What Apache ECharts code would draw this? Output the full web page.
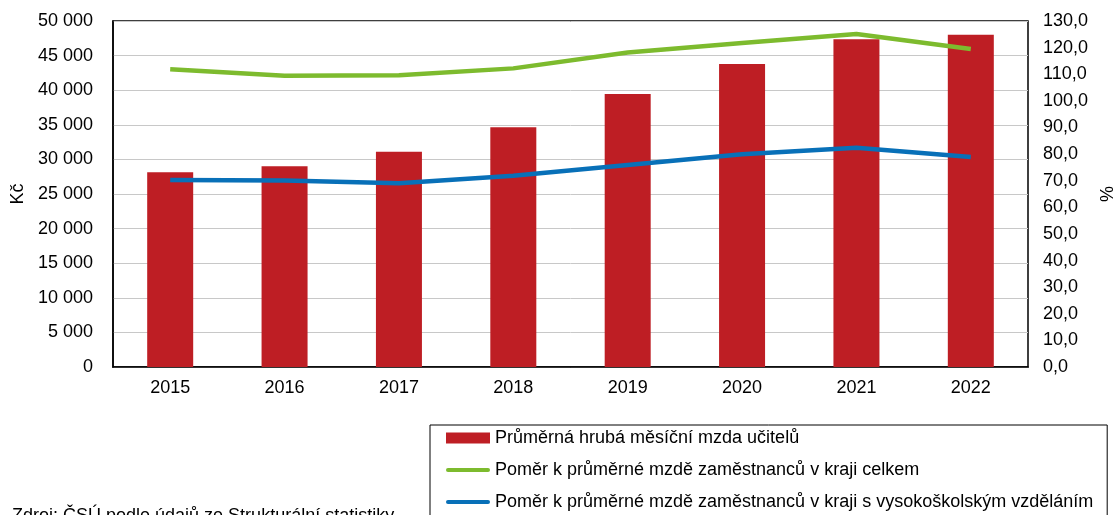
<!DOCTYPE html>
<html>
<head>
<meta charset="utf-8">
<script src="https://cdn.jsdelivr.net/npm/echarts@6/dist/echarts.min.js"></script>
<style>
html,body{margin:0;padding:0;background:#fff;}
#c{width:1114px;height:515px;}
</style>
</head>
<body>
<div id="c"></div>
<script>
var categories = ['2015','2016','2017','2018','2019','2020','2021','2022'];
var wageTeachers = [28150, 29000, 31100, 34650, 39450, 43800, 47350, 48000];
var ratioRegionAll = [111.9, 109.4, 109.6, 112.2, 118.2, 121.7, 125.1, 119.5];
var ratioRegionUni = [70.3, 70.1, 69.0, 71.9, 75.9, 79.9, 82.4, 78.9];
var seriesNames = [
  'Průměrná hrubá měsíční mzda učitelů',
  'Poměr k průměrné mzdě zaměstnanců v kraji celkem',
  'Poměr k průměrné mzdě zaměstnanců v kraji s vysokoškolským vzděláním'
];
var sourceText = 'Zdroj: ČSÚ podle údajů ze Strukturální statistiky';

var FONT = '"Liberation Sans", Arial, sans-serif';
var GREEN = '#7dbb2e', BLUE = '#0870b8', RED = '#be1e24';
var lineIcon = 'path://M2,0 H42 A2,2 0 0 1 42,4 H2 A2,2 0 0 1 2,0 Z';
var chart = echarts.init(document.getElementById('c'));
chart.setOption({
  animation: false,
  textStyle: {fontFamily: FONT},
  grid: {left: 113, right: 86, top: 21, bottom: 148, show: true, borderColor: '#000', borderWidth: 1.5,
    backgroundColor: 'transparent', containLabel: false, outerBoundsMode: 'none'},
  legend: {
    orient: 'vertical',
    left: 430, top: 425,
    width: 700, height: 200,
    itemGap: 14,
    itemWidth: 44, itemHeight: 11,
    padding: [4, 14, 10, 16],
    borderColor: '#000', borderWidth: 1,
    textStyle: {fontFamily: FONT, fontSize: 18, color: '#000', padding: [0, 0, 0, 0]},
    data: [
      {name: seriesNames[0], icon: 'rect'},
      {name: seriesNames[1], icon: lineIcon, itemStyle: {color: GREEN}},
      {name: seriesNames[2], icon: lineIcon, itemStyle: {color: BLUE}}
    ]
  },
  xAxis: {
    type: 'category',
    data: categories,
    axisLine: {show: true, lineStyle: {color: '#000', width: 1.5}},
    axisTick: {show: false},
    axisLabel: {color: '#000', fontSize: 18, margin: 12, fontFamily: FONT}
  },
  yAxis: [{
    type: 'value', min: 0, max: 50000, interval: 5000,
    name: 'Kč', nameLocation: 'middle', nameGap: 86, nameRotate: 90,
    nameTextStyle: {color: '#000', fontSize: 18, fontFamily: FONT},
    axisLine: {show: true, lineStyle: {color: '#000', width: 1.5}},
    axisTick: {show: false},
    splitLine: {show: true, lineStyle: {color: '#c8c8c8', width: 1}},
    axisLabel: {color: '#000', fontSize: 18, margin: 20, fontFamily: FONT,
      formatter: function (v) { return String(v).replace(/\B(?=(\d{3})+(?!\d))/g, ' '); }}
  }, {
    type: 'value', min: 0, max: 130, interval: 10,
    name: '%', nameLocation: 'middle', nameGap: 68, nameRotate: 90,
    nameTextStyle: {color: '#000', fontSize: 18, fontFamily: FONT},
    axisLine: {show: false},
    axisTick: {show: false},
    splitLine: {show: false},
    axisLabel: {color: '#000', fontSize: 18, margin: 15, fontFamily: FONT,
      formatter: function (v) { return v.toFixed(1).replace('.', ','); }}
  }],
  series: [{
    name: seriesNames[0], type: 'bar', data: wageTeachers, yAxisIndex: 0,
    barWidth: 46, itemStyle: {color: RED}
  }, {
    name: seriesNames[1], type: 'line', data: ratioRegionAll, yAxisIndex: 1,
    symbol: 'none', lineStyle: {color: GREEN, width: 4.5}, itemStyle: {color: GREEN}
  }, {
    name: seriesNames[2], type: 'line', data: ratioRegionUni, yAxisIndex: 1,
    symbol: 'none', lineStyle: {color: BLUE, width: 4.5}, itemStyle: {color: BLUE}
  }],
  graphic: [{
    type: 'text', left: 12, top: 507,
    style: {text: sourceText, fontFamily: FONT, fontSize: 18, fill: '#000'}
  }]
});
</script>
</body>
</html>
